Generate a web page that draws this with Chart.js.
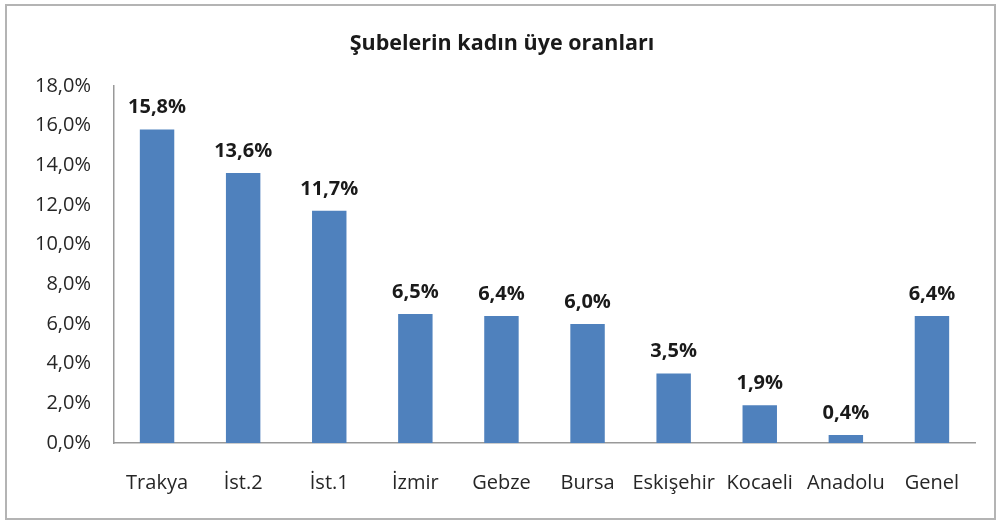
<!DOCTYPE html>
<html>
<head>
<meta charset="utf-8">
<script src="https://cdn.jsdelivr.net/npm/chart.js@4"></script>
<style>
html,body{margin:0;padding:0;background:#fff;}
#wrap{position:relative;width:999px;height:521px;}
#frame{position:absolute;left:5px;top:4px;width:987px;height:512px;border:2px solid #b4b4b4;box-sizing:content-box;pointer-events:none;}
canvas{position:absolute;left:0;top:0;}
</style>
</head>
<body>
<div id="wrap">
<canvas id="c" width="999" height="521"></canvas>
<div id="frame"></div>
</div>
<script>
const categories = ["Trakya", "İst.2", "İst.1", "İzmir", "Gebze", "Bursa", "Eskişehir", "Kocaeli", "Anadolu", "Genel"];
const values = [15.8, 13.6, 11.7, 6.5, 6.4, 6.0, 3.5, 1.9, 0.4, 6.4];
const yTicks = [0, 2, 4, 6, 8, 10, 12, 14, 16, 18];
const titleText = "Şubelerin kadın üye oranları";

const FONT = "'Open Sans', 'Liberation Sans', sans-serif";
const fmt = v => Number(v).toFixed(1).replace('.', ',') + '%';

const labelPlugin = {
  id: 'barLabels',
  afterDatasetsDraw(chart) {
    const ctx = chart.ctx;
    const meta = chart.getDatasetMeta(0);
    ctx.save();
    ctx.font = "bold 20px " + FONT;
    ctx.fillStyle = '#1a1a1a';
    ctx.textAlign = 'center';
    ctx.textBaseline = 'bottom';
    meta.data.forEach((bar, i) => {
      ctx.fillText(fmt(values[i]), bar.x, bar.y - 12);
    });
    ctx.restore();
  }
};

new Chart(document.getElementById('c'), {
  type: 'bar',
  data: {
    labels: categories,
    datasets: [{
      data: values,
      backgroundColor: '#4F81BD',
      borderWidth: 0,
      barPercentage: 0.8,
      categoryPercentage: 0.5
    }]
  },
  options: {
    responsive: false,
    animation: false,
    layout: { padding: { left: 5, right: 0, top: 0, bottom: 0 } },
    plugins: {
      legend: { display: false },
      tooltip: { enabled: false },
      title: {
        display: true,
        text: titleText,
        color: '#1a1a1a',
        font: { family: FONT, size: 21.5, weight: 'bold' },
        padding: { top: 31, bottom: 29 }
      }
    },
    scales: {
      y: {
        min: 0, max: 18,
        afterBuildTicks: s => { s.ticks = yTicks.map(v => ({ value: v })); },
        afterFit: s => { s.width = 109; },
        grid: { display: false, drawTicks: false },
        border: { display: true, color: '#999999', width: 1.5 },
        ticks: {
          padding: 23,
          color: '#262626',
          font: { family: FONT, size: 20 },
          callback: v => fmt(v)
        }
      },
      yRight: {
        position: 'right',
        display: true,
        min: 0, max: 18,
        afterFit: s => { s.width = 24; },
        grid: { display: false, drawTicks: false },
        border: { display: false },
        ticks: { display: false }
      },
      x: {
        afterFit: s => { s.height = 78; },
        grid: { display: false, drawTicks: false },
        border: { display: true, color: '#999999', width: 1.5 },
        ticks: {
          padding: 28,
          color: '#262626',
          font: { family: FONT, size: 20 },
          maxRotation: 0,
          autoSkip: false
        }
      }
    }
  },
  plugins: [labelPlugin]
});
</script>
</body>
</html>
